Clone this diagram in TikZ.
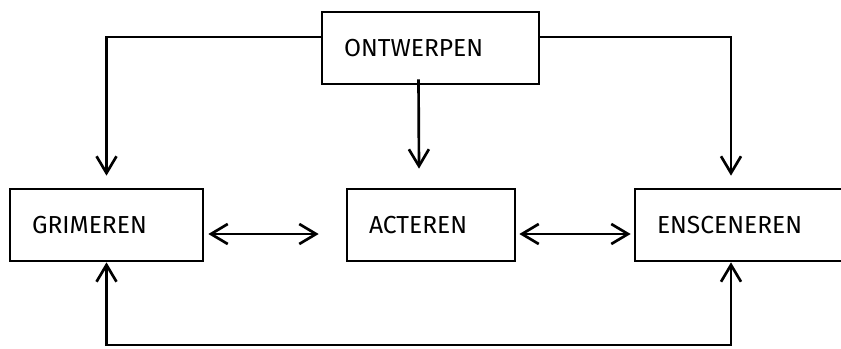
\documentclass[tikz,border=0pt]{standalone}
\usepackage{fontspec}
\setmainfont{Fira Sans}
\usetikzlibrary{arrows.meta}

\begin{document}
\begin{tikzpicture}[line width=1.9pt,
  every node/.style={draw,shape=rectangle,minimum height=1.8cm,inner xsep=.55cm,align=left,
    font=\fontsize{17.5}{21}\selectfont},
  pijl/.style={-{Straight Barb[length=.42cm,width=.5cm,line width=1.9pt]}},
  pijl2/.style={{Straight Barb[length=.42cm,width=.5cm,line width=1.9pt]}-{Straight Barb[length=.42cm,width=.5cm,line width=1.9pt]}}]
  \useasboundingbox (0,0) rectangle (21.025,-8.725);
  \path (10.7625,-1.2) node[text width=4.325cm] (ontwerpen) {ONTWERPEN}
  (2.6625,-5.625) node[text width=3.725cm] (grimeren) {GRIMEREN}
  (10.775,-5.625) node[text width=3.1cm] (acteren) {ACTEREN}
  (18.5,-5.625) node[text width=4.15cm] (ensceneren) {ENSCENEREN};
  \coordinate (onder) at (10,-8.625);
  \draw[pijl] ([yshift=.275cm]ontwerpen.west) -| ([yshift=.3cm]grimeren.north);
  \draw[pijl] ([yshift=.275cm]ontwerpen.east) -| ([shift={(-.225,.3)}]ensceneren.north);
  \draw[pijl] ([shift={(-.3,.15)}]ontwerpen.south) -- ([shift={(-.3,.475)}]acteren.north);
  \draw[pijl2] ([shift={(.1,-.225)}]grimeren.east) -- ([shift={(-.675,-.225)}]acteren.west);
  \draw[pijl2] ([shift={(.075,-.225)}]acteren.east) -- ([shift={(-.075,-.225)}]ensceneren.west);
  \draw[pijl2] (grimeren.south) -- (grimeren.south |- onder) -| ([xshift=-.225cm]ensceneren.south);
\end{tikzpicture}
\end{document}
